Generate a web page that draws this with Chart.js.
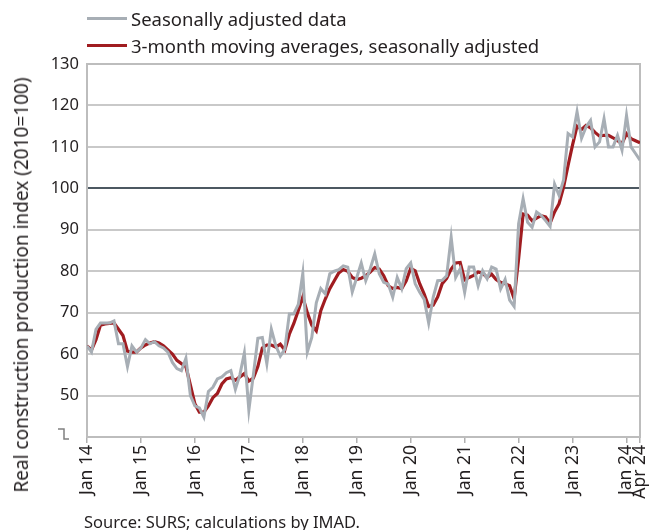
<!DOCTYPE html>
<html>
<head>
    <title>Real construction production index</title>
    <script src="https://cdn.jsdelivr.net/npm/chart.js"></script>
    <style>
        body { margin: 0; background: #fff; font-family: "Noto Sans", sans-serif; color: #231f20; }
        #wrap { position: relative; width: 650px; height: 530px; overflow: hidden; }
        #legend { position: absolute; left: 87px; top: 5px; font-size: 18.5px; line-height: 27px; }
        .item { display: flex; align-items: center; }
        .swatch { width: 40px; height: 3px; margin-right: 4px; }
        #yTitle { position: absolute; left: 21px; top: 285px; transform: translate(-50%, -50%) rotate(-90deg);
                  white-space: nowrap; font-size: 19px; }
        #source { position: absolute; left: 84px; top: 510px; font-size: 16.5px; }
    </style>
</head>
<body>
<div id="wrap">
    <canvas id="chart" width="650" height="530"></canvas>
    <div id="legend"></div>
    <div id="yTitle">Real construction production index (2010=100)</div>
    <div id="source">Source: SURS; calculations by IMAD.</div>
</div>

<script>
    // monthly, Jan 2014 - Apr 2024
    const seasonal = [
        62, 60.5, 66, 67.5, 67.5, 67.5, 68, 62.5, 62.5, 57, 62, 60.5,
        61.5, 63.5, 62.5, 63, 62, 61.5, 60.5, 58, 56.5, 56, 59, 50,
        47.5, 47, 44.8, 51, 52, 54, 54.5, 55.5, 56, 51.5, 55, 60.3,
        46.5, 55, 63.8, 64, 57.7, 66, 62, 59.5, 61.2, 69.7, 69.7, 72,
        79.5, 60.5, 64, 72.4, 75.8, 74.5, 79.4, 80, 80.4, 81.3, 81, 75,
        78.5, 82, 77.7, 80.6, 84.2, 79.4, 77.3, 76.9, 73.7, 78.5, 75.8, 80.6,
        82, 77, 74.9, 73.2, 67.5, 73.7, 77.7, 77.8, 78.9, 88.2, 78.5, 80.6,
        74.9, 81, 81, 76.5, 80.1, 78.2, 81, 80.5, 75.7, 78, 73, 71.5,
        91.5, 97.5, 91.8, 90.6, 94.3, 93.5, 92.2, 90.8, 101, 98.3, 102, 113.2,
        112.4, 118.5, 112.1, 114.8, 116.4, 110, 111.2, 116.8, 110, 110, 112.8, 109.2,
        117.6, 110, 108.4, 106.8
    ];
    const movingAvg = [
        62, 61, 63.5, 67, 67.3, 67.4, 67.5, 66, 64.5, 60.7, 60.5, 60.5,
        61.5, 62.2, 62.7, 63, 62.7, 62, 61, 60, 58.5, 57.7, 57, 52.5,
        48, 46, 46, 47.5, 49.5, 50.5, 52.8, 54, 54.3, 53.7, 54.5, 55.3,
        53.5, 54.2, 57, 61.5, 62.2, 62.2, 61.7, 62.4, 61, 64.8, 67.4, 70.5,
        73.8, 70, 67, 65.6, 70.5, 73.3, 75.8, 77.7, 79.6, 80.4, 80, 78.5,
        78, 78.3, 78.9, 79.8, 80.9, 80.5, 78.9, 76.5, 75.8, 76.1, 75.8, 77.7,
        80.7, 80.1, 77, 74.5, 71.5, 71.8, 73.8, 77, 78.3, 80.5, 82, 82.1,
        77.9, 78.5, 79, 79.8, 79.5, 78.5, 79.3, 78, 77.3, 77, 76.5, 73.4,
        83, 93.8, 93.5, 92.2, 92.8, 93.4, 93.1, 91.6, 94.3, 96.3, 100.3, 105.5,
        110.5, 115, 114.2, 115.2, 114.6, 113.5, 112.6, 112.8, 112.8, 112.2, 111.5, 110.8,
        113.2, 112, 111.5, 111
    ];
    const tickPositions = [0, 12, 24, 36, 48, 60, 72, 84, 96, 108, 120, 123];
    const tickLabels = ['Jan 14', 'Jan 15', 'Jan 16', 'Jan 17', 'Jan 18', 'Jan 19', 'Jan 20',
                        'Jan 21', 'Jan 22', 'Jan 23', 'Jan 24', 'Apr 24'];
    const seriesNames = ['Seasonally adjusted data', '3-month moving averages, seasonally adjusted'];
    const seriesColors = ['#a7aeb5', '#a01c20'];

    const FONT = '"Noto Sans", sans-serif';
    const PLOT_LEFT = 87, PLOT_TOP = 64, PLOT_BOTTOM = 437, PLOT_RIGHT = 640;

    // legend
    const legend = document.getElementById('legend');
    seriesNames.forEach((name, i) => {
        const row = document.createElement('div');
        row.className = 'item';
        row.innerHTML = `<span class="swatch" style="background:${seriesColors[i]}"></span>${name}`;
        legend.appendChild(row);
    });

    // plot frame + axis break mark
    const framePlugin = {
        id: 'frame',
        beforeDatasetsDraw(chart) {
            const { ctx, chartArea: a } = chart;
            ctx.save();
            ctx.strokeStyle = '#bdbdbd';
            ctx.lineWidth = 2;
            ctx.strokeRect(a.left, a.top, a.right - a.left, a.bottom - a.top);
            // break symbol
            ctx.strokeStyle = '#808080';
            ctx.lineWidth = 1.5;
            ctx.beginPath();
            ctx.moveTo(a.left - 29, a.bottom - 8);
            ctx.lineTo(a.left - 23, a.bottom - 8);
            ctx.lineTo(a.left - 23, a.bottom + 2);
            ctx.lineTo(a.left - 18, a.bottom + 2);
            ctx.stroke();
            ctx.restore();
        }
    };

    const toPoints = arr => arr.map((v, i) => ({ x: i, y: v }));

    new Chart(document.getElementById('chart').getContext('2d'), {
        type: 'line',
        data: {
            datasets: [
                { label: seriesNames[0], data: toPoints(seasonal), borderColor: seriesColors[0],
                  borderWidth: 3, pointRadius: 0, tension: 0 },
                { label: seriesNames[1], data: toPoints(movingAvg), borderColor: seriesColors[1],
                  borderWidth: 3.2, pointRadius: 0, tension: 0 }
            ]
        },
        options: {
            responsive: false,
            animation: false,
            layout: { padding: { top: PLOT_TOP, right: 650 - PLOT_RIGHT, left: 0, bottom: 0 } },
            plugins: { legend: { display: false }, tooltip: { enabled: false } },
            scales: {
                x: {
                    type: 'linear',
                    min: 0,
                    max: 123,
                    afterBuildTicks: axis => { axis.ticks = tickPositions.map(v => ({ value: v })); },
                    afterFit: axis => {
                        axis.height = 530 - PLOT_BOTTOM;
                        axis.paddingLeft = 0;
                        axis.paddingRight = 0;
                    },
                    border: { display: false },
                    grid: { drawOnChartArea: false, tickLength: 6, tickColor: '#b0b0b0', lineWidth: 1.5 },
                    ticks: {
                        autoSkip: false,
                        minRotation: 90,
                        maxRotation: 90,
                        padding: 2,
                        color: '#231f20',
                        font: { family: FONT, size: 17.5 },
                        callback: v => tickLabels[tickPositions.indexOf(v)]
                    }
                },
                y: {
                    min: 40,
                    max: 130,
                    afterFit: axis => {
                        axis.width = PLOT_LEFT;
                        axis.paddingTop = 0;
                        axis.paddingBottom = 0;
                    },
                    border: { display: false },
                    grid: {
                        drawTicks: false,
                        color: c => c.tick.value === 100 ? '#4c5861' : (c.tick.value === 40 || c.tick.value === 130 ? 'transparent' : '#c9c9c9'),
                        lineWidth: 2
                    },
                    ticks: {
                        stepSize: 10,
                        padding: 8,
                        color: '#231f20',
                        font: { family: FONT, size: 16.5 },
                        callback: v => v === 40 ? '' : v
                    }
                }
            }
        },
        plugins: [framePlugin]
    });
</script>
</body>
</html>
